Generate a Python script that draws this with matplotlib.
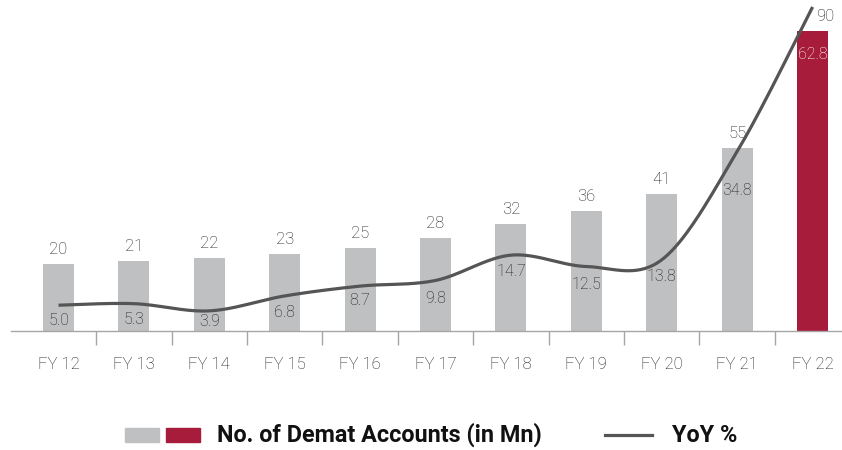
import numpy as np
import matplotlib
matplotlib.use("Agg")
import matplotlib.pyplot as plt
from matplotlib.patches import Rectangle
from matplotlib.lines import Line2D

plt.rcParams['font.family'] = ['Roboto', 'DejaVu Sans']

# ---- data ----
categories = ["FY 12", "FY 13", "FY 14", "FY 15", "FY 16", "FY 17",
              "FY 18", "FY 19", "FY 20", "FY 21", "FY 22"]
accounts = [20, 21, 22, 23, 25, 28, 32, 36, 41, 55, 90]
yoy = [5.0, 5.3, 3.9, 6.8, 8.7, 9.8, 14.7, 12.5, 13.8, 34.8, 62.8]

# ---- styles ----
GRAY = "#bfc0c2"
RED = "#a61c3a"
LINE = "#555555"
TXT = "#1e1e1e"
yoy_label_offset_px = [15, 16, 11, 17, 14, 18, 16, 18, 17, 39, 48]

W, H = 842, 450
fig = plt.figure(figsize=(W / 100, H / 100), dpi=100)
ax = fig.add_axes([11 / W, (H - 331) / H, (W - 11) / W, 331 / H])
ax2 = ax.twinx()

x = np.arange(len(categories))
colors = [GRAY] * (len(categories) - 1) + [RED]
ax.bar(x, accounts, width=0.41, color=colors, zorder=1)
ax.set_xlim(-0.63, 10.39)
ax.set_ylim(0, 99.25)
ax2.set_ylim(0, 64.15)

for i, (xi, v) in enumerate(zip(x, accounts)):
    dx = 9 if i == len(accounts) - 1 else 0
    ax.annotate(f"{v}", (xi, v), xytext=(dx, 5), textcoords="offset points",
                ha="center", va="bottom", fontsize=12, color=TXT,
                fontweight="light")

# smooth line (Catmull-Rom / Bezier like Excel smoothing)
def catmull(xs, ys, n=40):
    P = np.column_stack([xs, ys]).astype(float)
    P = np.vstack([P[0], P, P[-1]])
    out = []
    for i in range(1, len(P) - 2):
        p0, p1, p2, p3 = P[i - 1], P[i], P[i + 1], P[i + 2]
        t = np.linspace(0, 1, n)[:, None]
        c1 = p1 + (p2 - p0) / 6
        c2 = p2 - (p3 - p1) / 6
        seg = ((1 - t) ** 3) * p1 + 3 * ((1 - t) ** 2) * t * c1 + 3 * (1 - t) * t ** 2 * c2 + t ** 3 * p2
        out.append(seg)
    S = np.vstack(out)
    return S[:, 0], S[:, 1]

sx, sy = catmull(x, yoy)
ax2.plot(sx, sy, color=LINE, lw=2.3, zorder=3, clip_on=False, solid_capstyle='butt')

for i, (xi, v) in enumerate(zip(x, yoy)):
    c = "white" if i == len(yoy) - 1 else TXT
    ax2.annotate(f"{v:.1f}", (xi, v), xytext=(0, -yoy_label_offset_px[i] * 0.72),
                 textcoords="offset points", ha="center", va="center",
                 fontsize=11.5, color=c, zorder=4, fontweight="light")

for a in (ax, ax2):
    for s in ["top", "right", "left"]:
        a.spines[s].set_visible(False)
    a.set_yticks([])
ax2.spines["bottom"].set_visible(False)
ax.spines["bottom"].set_color("#a6a6a6")
ax.spines["bottom"].set_linewidth(1.0)
ax.set_xticks(x)
ax.set_xticklabels(categories, fontsize=12, color=TXT, fontweight="light")
ax.tick_params(axis="x", which="major", length=0, pad=19)
ax.set_xticks(x[:-1] + 0.5, minor=True)
ax.tick_params(axis="x", which="minor", length=10, color="#a6a6a6", width=1.0)

# legend drawn manually
ly = (H - 435) / H
fig.patches.append(Rectangle((125 / W, (H - 442) / H), 34 / W, 14 / H,
                             transform=fig.transFigure, color=GRAY))
fig.patches.append(Rectangle((166 / W, (H - 442) / H), 34 / W, 14 / H,
                             transform=fig.transFigure, color=RED))
fig.text(217 / W, ly, "No. of Demat Accounts (in Mn)", fontsize=16.8,
         fontweight="bold", color="#111111", ha="left", va="center")
fig.lines.append(Line2D([605 / W, 652 / W], [ly, ly], transform=fig.transFigure,
                        color=LINE, lw=2.3))
fig.text(672 / W, ly, "YoY %", fontsize=16.8, fontweight="bold",
         color="#111111", ha="left", va="center")

fig.savefig("out.png", dpi=100)
